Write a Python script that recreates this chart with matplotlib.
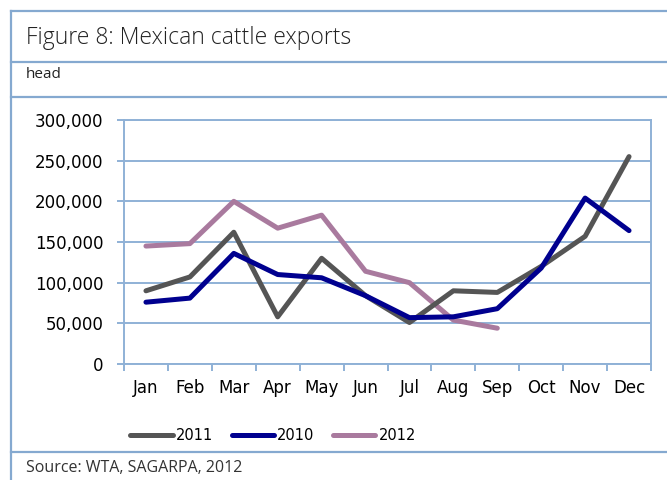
import numpy as np
import matplotlib.pyplot as plt
from matplotlib.lines import Line2D

months = ["Jan", "Feb", "Mar", "Apr", "May", "Jun", "Jul", "Aug", "Sep", "Oct", "Nov", "Dec"]
exp_2011 = [90000, 107000, 162000, 58000, 130000, 84000, 51000, 90000, 88000, 120000, 157000, 255000]
exp_2010 = [76000, 81000, 136000, 110000, 106000, 84000, 57000, 58000, 68000, 118000, 204000, 164000]
exp_2012 = [145000, 148000, 200000, 167000, 183000, 114000, 100000, 54000, 44000]

FRAME = "#85A9D0"
GRID = "#8FB1D6"
W, H = 667, 480

fig = plt.figure(figsize=(W / 100, H / 100), dpi=100)

# outer box lines (pixel coords -> figure fraction)
def hline(y, x0=11, x1=W):
    fig.add_artist(Line2D([x0 / W, x1 / W], [1 - y / H, 1 - y / H], color=FRAME, lw=1.6))

hline(11); hline(62); hline(97); hline(452)
fig.add_artist(Line2D([11 / W, 11 / W], [0, 1 - 11 / H], color=FRAME, lw=1.6))

fig.text(26 / W, 1 - 38 / H, "Figure 8: Mexican cattle exports", fontsize=16.5,
         family="Open Sans", fontweight="light", va="center", color="#222222")
fig.text(26 / W, 1 - 74 / H, "head", fontsize=11, family="Open Sans",
         va="center", color="#222222")
fig.text(26 / W, 1 - 468 / H, "Source: WTA, SAGARPA, 2012", fontsize=11.5,
         family="Open Sans", va="center", color="#333333")

ax = fig.add_axes([124 / W, 1 - 364 / H, (651 - 124) / W, (364 - 120) / H])
x = np.arange(len(months))
l1, = ax.plot(x, exp_2011, color="#555555", lw=3.6, solid_capstyle="round", label="2011")
l2, = ax.plot(x, exp_2010, color="#00008F", lw=3.6, solid_capstyle="round", label="2010")
l3, = ax.plot(x[:len(exp_2012)], exp_2012, color="#A97A9E", lw=3.6, solid_capstyle="round", label="2012")
l3.set_zorder(2); l2.set_zorder(3); l1.set_zorder(2.5)

ax.set_xlim(-0.5, 11.5)
ax.set_ylim(0, 300000)
ax.set_yticks(np.arange(0, 300001, 50000))
ax.set_yticklabels([f"{v:,}" for v in range(0, 300001, 50000)])
ax.set_xticks(np.arange(-0.5, 12, 1))
ax.set_xticklabels([])
ax.set_xticks(x, minor=True)
ax.set_xticklabels(months, minor=True)
ax.tick_params(axis="x", which="minor", length=0, pad=11, labelsize=12)
ax.tick_params(axis="x", which="major", length=5, color=GRID, width=1.4)
ax.tick_params(axis="y", length=5, color=GRID, width=1.4, labelsize=12, pad=10)
ax.grid(axis="y", color=GRID, lw=1.4)
ax.set_axisbelow(True)
for s in ax.spines.values():
    s.set_color(GRID)
    s.set_linewidth(1.4)

fig.legend(handles=[l1, l2, l3], loc="center", bbox_to_anchor=(273 / W, 1 - 436 / H),
           ncol=3, frameon=False, fontsize=10.5, handlelength=2.9, handletextpad=0.2,
           columnspacing=1.3)

fig.savefig("out.png", dpi=100)
